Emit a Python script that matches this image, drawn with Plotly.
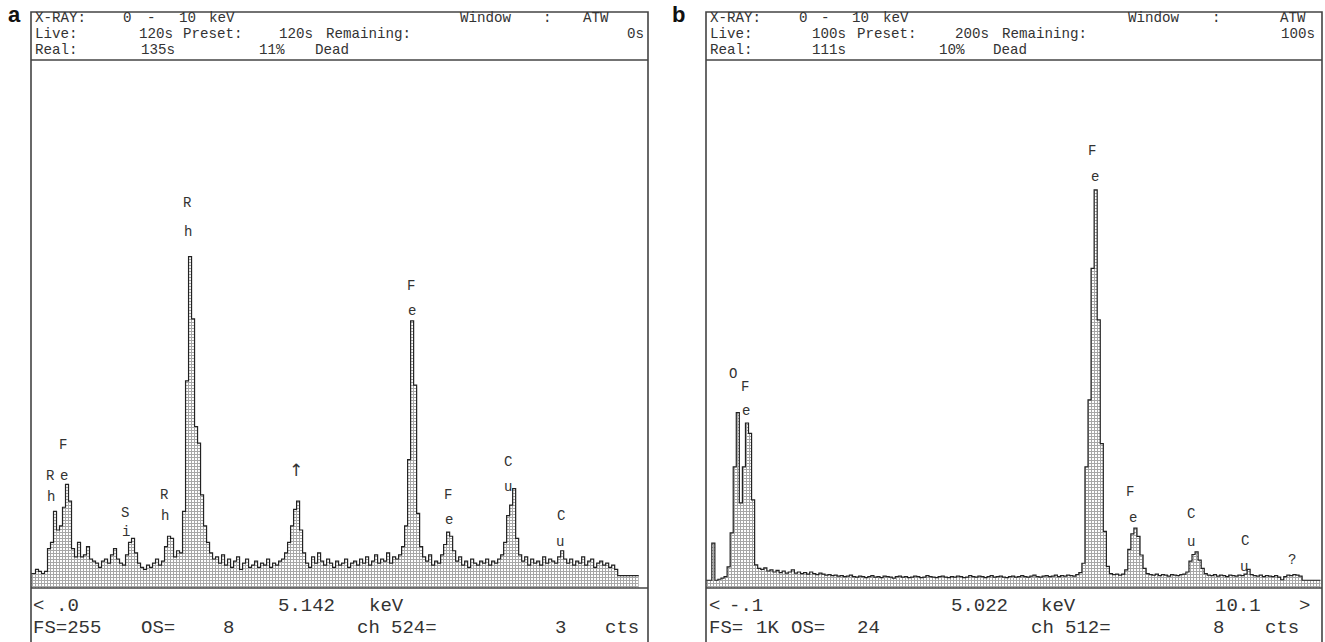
import plotly.graph_objects as go

W, H = 1325, 642
STEP = 0.05  # keV per displayed channel

# ---- Panel a: counts per channel (FS = 255) ----
a_counts = [7, 7, 7, 9, 8, 7, 8, 19, 22, 37, 28, 30, 39, 50, 42, 19, 15, 22, 15, 16,
            20, 14, 13, 12, 10, 13, 14, 12, 16, 19, 14, 12, 11, 16, 22, 24, 17, 12, 10, 9,
            11, 10, 12, 14, 11, 13, 20, 25, 24, 15, 18, 17, 37, 100, 160, 130, 78, 70, 45, 30,
            22, 17, 14, 15, 12, 16, 11, 14, 10, 13, 15, 9, 12, 14, 10, 11, 13, 10, 12, 11,
            14, 10, 12, 11, 13, 14, 17, 22, 30, 38, 42, 28, 17, 12, 10, 15, 12, 17, 13, 11,
            14, 12, 10, 13, 11, 12, 14, 10, 12, 13, 11, 14, 12, 15, 11, 13, 16, 12, 14, 13,
            17, 12, 15, 14, 16, 20, 30, 62, 129, 98, 36, 20, 15, 13, 16, 11, 13, 12, 16, 21,
            27, 25, 18, 13, 15, 11, 13, 10, 14, 12, 11, 13, 12, 14, 11, 13, 12, 14, 16, 22,
            35, 40, 48, 24, 16, 13, 15, 11, 14, 12, 13, 11, 15, 12, 14, 13, 12, 15, 18, 14,
            12, 14, 11, 13, 12, 15, 11, 13, 14, 10, 12, 13, 11, 12, 10, 11, 9, 6, 6, 6,
            6, 6, 6, 6]

# ---- Panel b: counts per channel (FS = 1K) ----
b_counts = [15, 15, 15, 87, 15, 17, 19, 22, 41, 107, 235, 340, 165, 235, 320, 300, 171, 45, 38, 36,
            39, 33, 35, 31, 34, 30, 33, 29, 31, 35, 29, 31, 28, 30, 27, 31, 28, 26, 29, 27,
            25, 26, 24, 25, 23, 24, 22, 23, 25, 22, 21, 23, 22, 20, 22, 24, 21, 22, 20, 23,
            22, 21, 19, 22, 23, 21, 22, 20, 21, 23, 22, 20, 21, 24, 22, 21, 20, 22, 23, 21,
            20, 22, 21, 23, 22, 20, 21, 24, 22, 21, 23, 22, 20, 22, 24, 21, 22, 23, 21, 20,
            22, 23, 21, 22, 24, 22, 21, 23, 25, 22, 21, 23, 24, 22, 23, 25, 22, 24, 23, 25,
            24, 23, 26, 30, 48, 235, 365, 620, 772, 520, 280, 110, 42, 28, 26, 27, 25, 27, 35, 75,
            105, 116, 100, 64, 38, 28, 26, 25, 27, 24, 26, 25, 23, 26, 25, 24, 26, 27, 31, 52,
            65, 70, 54, 38, 28, 25, 24, 26, 23, 25, 24, 22, 25, 24, 23, 25, 24, 27, 36, 26,
            24, 23, 25, 22, 24, 23, 22, 24, 21, 16, 22, 25, 24, 26, 25, 23, 15, 15, 15, 15,
            15, 15]

# ---- Peak labels: (text, energy keV, counts) ----
a_labels = [("F", 0.58, 69), ("R", 0.38, 54), ("e", 0.60, 54), ("h", 0.38, 44),
            ("S", 1.62, 36), ("i", 1.63, 27),
            ("R", 2.28, 45), ("h", 2.28, 35),
            ("R", 2.65, 186), ("h", 2.67, 172),
            ("F", 6.38, 146), ("e", 6.40, 134),
            ("F", 7.00, 45), ("e", 7.02, 33),
            ("C", 8.00, 61), ("u", 8.00, 49),
            ("C", 8.88, 35), ("u", 8.87, 22)]
a_arrow = [("↑", 4.47, 57)]
b_labels = [("O", 0.47, 415), ("F", 0.66, 390), ("e", 0.69, 343),
            ("F", 6.34, 848), ("e", 6.39, 797),
            ("F", 6.96, 186), ("e", 7.01, 136),
            ("C", 7.96, 144), ("u", 7.96, 90),
            ("C", 8.84, 92), ("u", 8.82, 40),
            ("?", 9.61, 54)]

# ---- Screen texts: (text, x px, y px) ----
a_header = [("0", 127, 18), ("-", 151, 18), ("10", 187, 18), ("keV", 222, 18),
            ("Window", 486, 18), (":", 547, 18), ("ATW", 596, 18),
            ("120s", 156, 34), ("120s", 296, 34),
            ("135s", 158, 50), ("11%", 272, 50), ("Dead", 332, 50)]
a_header_left = [("X-RAY:", 34, 18), ("Live:", 34, 34), ("Real:", 34, 50),
                 ("Preset:", 182, 34), ("Remaining:", 325, 34)]
a_header_right = [("0s", 645, 34)]
b_header = [("0", 803, 18), ("-", 825, 18), ("10", 861, 18), ("keV", 896, 18),
            ("Window", 1154, 18), (":", 1216, 18), ("ATW", 1293, 18),
            ("100s", 829, 34), ("200s", 972, 34),
            ("111s", 829, 50), ("10%", 952, 50), ("Dead", 1010, 50)]
b_header_left = [("X-RAY:", 709, 18), ("Live:", 709, 34), ("Real:", 709, 50),
                 ("Preset:", 856, 34), ("Remaining:", 1001, 34)]
b_header_right = [("100s", 1316, 34)]
a_footer = [("<", 32, 606), (".0", 55, 606), ("5.142", 277, 606), ("keV", 368, 606),
            ("FS=255", 32, 628), ("OS=", 140, 628), ("8", 222, 628), ("ch", 356, 628),
            ("524=", 390, 628), ("3", 554, 628), ("cts", 604, 628)]
b_footer = [("<", 708, 606), ("-.1", 728, 606), ("5.022", 950, 606), ("keV", 1040, 606),
            ("10.1", 1214, 606), (">", 1298, 606),
            ("FS=", 708, 628), ("1K", 755, 628), ("OS=", 790, 628), ("24", 856, 628),
            ("ch", 1030, 628), ("512=", 1064, 628), ("8", 1212, 628), ("cts", 1264, 628)]


def px(x):
    return x / W


def py(y):
    return 1 - y / H


def channel_edges(counts):
    n = len(counts)
    xs = [round(i * STEP - STEP / 2, 4) for i in range(n + 1)]
    ys = list(counts) + [counts[-1]]
    return xs, ys


fig = go.Figure()
pattern = dict(shape="+", size=3, solidity=0.55, fgcolor="#4d4d4d", bgcolor="#ffffff")
for counts, xa, ya in [(a_counts, "x", "y"), (b_counts, "x2", "y2")]:
    xs, ys = channel_edges(counts)
    fig.add_trace(go.Scatter(x=xs, y=ys, mode="lines", line=dict(shape="hv", color="#222222", width=1.2),
                             fill="tozeroy", fillpattern=pattern, fillcolor="#ffffff",
                             xaxis=xa, yaxis=ya, showlegend=False, hoverinfo="skip"))

ann = []
HF = dict(family="Liberation Mono", size=14.2, color="#333")
FF = dict(family="Liberation Mono", size=19, color="#333")


def add_texts(items, anchor, font):
    for t, x, y in items:
        ann.append(dict(text=t, x=px(x), y=py(y), xref="paper", yref="paper", xanchor=anchor,
                        yanchor="middle", showarrow=False, borderpad=0, font=font))


add_texts(a_header + b_header, "center", HF)
add_texts(a_header_left + b_header_left, "left", HF)
add_texts(a_header_right + b_header_right, "right", HF)
add_texts(a_footer + b_footer, "left", FF)

for items, xr, yr, fnt in [(a_labels, "x", "y", dict(family="Liberation Mono", size=14, color="#333")),
                           (b_labels, "x2", "y2", dict(family="Liberation Mono", size=14, color="#333")),
                           (a_arrow, "x", "y", dict(family="DejaVu Sans", size=17, color="#333"))]:
    for t, e, c in items:
        ann.append(dict(text=t, x=e, y=c, xref=xr, yref=yr, xanchor="center", yanchor="middle",
                        showarrow=False, borderpad=0, font=fnt))
ann.append(dict(text="<b>a</b>", x=px(15), y=py(0), xref="paper", yref="paper", showarrow=False,
                xanchor="center", yanchor="top", font=dict(family="Liberation Sans", size=22, color="#111")))
ann.append(dict(text="<b>b</b>", x=px(678), y=py(0), xref="paper", yref="paper", showarrow=False,
                xanchor="center", yanchor="top", font=dict(family="Liberation Sans", size=22, color="#111")))

shapes = []
for x0, x1 in [(31, 648), (706, 1322)]:
    shapes.append(dict(type="rect", xref="paper", yref="paper", x0=px(x0), x1=px(x1), y0=py(12), y1=py(660),
                       line=dict(color="#444", width=1.6)))
    for yy in (60, 588):
        shapes.append(dict(type="line", xref="paper", yref="paper", x0=px(x0), x1=px(x1), y0=py(yy), y1=py(yy),
                           line=dict(color="#444", width=1.6)))

ax = dict(showgrid=False, zeroline=False, showticklabels=False, ticks="", showline=False, fixedrange=True)
fig.update_layout(
    width=W, height=H, margin=dict(l=0, r=0, t=0, b=0),
    paper_bgcolor="white", plot_bgcolor="rgba(0,0,0,0)",
    xaxis=dict(ax, domain=[px(31), px(648)], range=[0.05, 10.33]),
    yaxis=dict(ax, domain=[py(588), py(60)], range=[0, 255]),
    xaxis2=dict(ax, domain=[px(706), px(1322)], range=[0.03, 10.10], anchor="y2"),
    yaxis2=dict(ax, domain=[py(588), py(60)], range=[0, 1024], anchor="x2"),
    annotations=ann, shapes=shapes,
)
fig.write_html("out.html")
